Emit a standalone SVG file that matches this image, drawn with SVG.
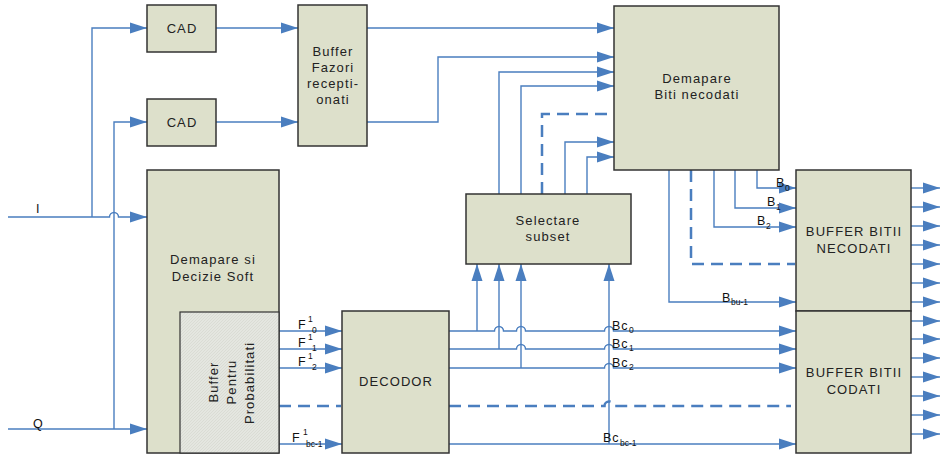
<svg xmlns="http://www.w3.org/2000/svg" width="942" height="455" viewBox="0 0 942 455">
<style>
.box{fill:#dde0cb;stroke:#333;stroke-width:1.5}
.inner{fill:url(#tex);stroke:#333;stroke-width:1.2}
.t{font-family:"Liberation Sans",Arial,sans-serif;font-size:13px;fill:#222;letter-spacing:1.1px;text-anchor:middle}
.l{font-family:"Liberation Sans",Arial,sans-serif;font-size:12.5px;fill:#111}
.s{font-family:"Liberation Sans",Arial,sans-serif;font-size:8.5px;fill:#111}
.c{fill:none;stroke:#4a7ebf;stroke-width:1.4}
.d{fill:none;stroke:#4a7ebf;stroke-width:2.5;stroke-dasharray:12 7}
.a{marker-end:url(#ar)}
</style>
<defs>
<marker id="ar" markerUnits="userSpaceOnUse" markerWidth="18" markerHeight="12" refX="17" refY="6" orient="auto">
<path d="M0,0.5 L17,6 L0,11.5 z" fill="#4a7ebf"/>
</marker>
<pattern id="tex" width="3" height="3" patternUnits="userSpaceOnUse">
<rect width="3" height="3" fill="#e4e6e0"/>
<path d="M0,3 L3,0" stroke="#d3d5cd" stroke-width="0.6"/>
</pattern>
</defs>
<rect width="942" height="455" fill="#fff"/>

<g id="connectors">
<!-- I and Q -->
<path class="c a" d="M8,217 L109.5,217 A4.5,4.5 0 0 1 118.5,217 L147,217"/>
<path class="c a" d="M92,217 L92,28 L147,28"/>
<path class="c a" d="M8,429 L147,429"/>
<path class="c a" d="M114,429 L114,122 L147,122"/>
<!-- CAD to buffer -->
<path class="c a" d="M216,28 L298,28"/>
<path class="c a" d="M216,122 L298,122"/>
<!-- buffer to demapare -->
<path class="c a" d="M367,28 L614,28"/>
<path class="c a" d="M367,122 L438,122 L438,57 L614,57"/>
<!-- selectare to demapare -->
<path class="c a" d="M499,194 L499,72 L614,72"/>
<path class="c a" d="M521,194 L521,86 L614,86"/>
<path class="d" d="M542,194 L542,114 L613,114"/>
<path class="c a" d="M565,194 L565,142 L614,142"/>
<path class="c a" d="M587,194 L587,157 L614,157"/>
<!-- demapare biti to buffer necodati -->
<path class="c a" d="M757,170 L757,188 L796,188"/>
<path class="c a" d="M735,170 L735,208 L796,208"/>
<path class="c a" d="M714,170 L714,227 L796,227"/>
<path class="d" d="M691,170 L691,264 L795,264"/>
<path class="c a" d="M669,170 L669,302 L796,302"/>
<!-- F outputs -->
<path class="c a" d="M279,331 L342,331"/>
<path class="c a" d="M279,349 L342,349"/>
<path class="c a" d="M279,368 L342,368"/>
<path class="d" d="M279,406 L341,406"/>
<path class="c a" d="M279,444 L342,444"/>
<!-- decodor outputs -->
<path class="c a" d="M449,331 L494.5,331 A4.5,4.5 0 0 1 503.5,331 L516.5,331 A4.5,4.5 0 0 1 525.5,331 L604.5,331 A4.5,4.5 0 0 1 613.5,331 L796,331"/>
<path class="c a" d="M449,349 L516.5,349 A4.5,4.5 0 0 1 525.5,349 L604.5,349 A4.5,4.5 0 0 1 613.5,349 L796,349"/>
<path class="c a" d="M449,368 L604.5,368 A4.5,4.5 0 0 1 613.5,368 L796,368"/>
<path class="d" d="M449,406 L604.5,406 A4.5,4.5 0 0 1 613.5,406 L791,406"/>
<path class="c a" d="M449,444 L796,444"/>
<!-- up to selectare -->
<path class="c a" d="M477,331 L477,264"/>
<path class="c a" d="M499,349 L499,264"/>
<path class="c a" d="M521,368 L521,264"/>
<path class="c a" d="M609,444 L609,264"/>
<!-- right outputs -->
<path class="c a" d="M911,188 L940,188"/>
<path class="c a" d="M911,207 L940,207"/>
<path class="c a" d="M911,226 L940,226"/>
<path class="c a" d="M911,245 L940,245"/>
<path class="c a" d="M911,264 L940,264"/>
<path class="c a" d="M911,283 L940,283"/>
<path class="c a" d="M911,302 L940,302"/>
<path class="c a" d="M911,321 L940,321"/>
<path class="c a" d="M911,339 L940,339"/>
<path class="c a" d="M911,358 L940,358"/>
<path class="c a" d="M911,377 L940,377"/>
<path class="c a" d="M911,396 L940,396"/>
<path class="c a" d="M911,415 L940,415"/>
<path class="c a" d="M911,434 L940,434"/>
</g>

<g id="labels">
<text class="l" x="36" y="213">I</text>
<text class="l" x="33" y="428">Q</text>
<text class="l" x="298" y="329">F</text><text class="s" x="308" y="322">1</text><text class="s" x="312" y="333">0</text>
<text class="l" x="298" y="347">F</text><text class="s" x="308" y="340">1</text><text class="s" x="312" y="351">1</text>
<text class="l" x="298" y="366">F</text><text class="s" x="308" y="359">1</text><text class="s" x="312" y="370">2</text>
<text class="l" x="292" y="442">F</text><text class="s" x="303" y="435">1</text><text class="s" x="306" y="447">bc-1</text>
<text class="l" x="612" y="330" letter-spacing="1">Bc</text><text class="s" x="629" y="333">0</text>
<text class="l" x="612" y="348" letter-spacing="1">Bc</text><text class="s" x="629" y="351">1</text>
<text class="l" x="612" y="367" letter-spacing="1">Bc</text><text class="s" x="629" y="370">2</text>
<text class="l" x="603" y="442" letter-spacing="1">Bc</text><text class="s" x="620" y="446">bc-1</text>
<text class="l" x="776" y="187">B</text><text class="s" x="785" y="191">0</text>
<text class="l" x="767" y="206">B</text><text class="s" x="776" y="210">1</text>
<text class="l" x="757" y="225">B</text><text class="s" x="766" y="229">2</text>
<text class="l" x="722" y="302">B</text><text class="s" x="731" y="305">bu-1</text>
</g>

<g id="cad1"><rect class="box" x="147" y="5" width="69" height="47"/><text class="t" x="182" y="33">CAD</text></g>
<g id="cad2"><rect class="box" x="147" y="99" width="69" height="47"/><text class="t" x="182" y="127">CAD</text></g>
<g id="buffer-fazori"><rect class="box" x="298" y="5" width="69" height="141"/>
<text class="t" x="333" y="56">Buffer</text><text class="t" x="333" y="72">Fazori</text><text class="t" x="333" y="88">recepti-</text><text class="t" x="333" y="104">onati</text></g>
<g id="demapare-biti"><rect class="box" x="614" y="6" width="165" height="164"/>
<text class="t" x="697" y="83">Demapare</text><text class="t" x="697" y="99">Biti necodati</text></g>
<g id="demapare-soft"><rect class="box" x="147" y="170" width="132" height="283"/>
<text class="t" x="213" y="264">Demapare si</text><text class="t" x="213" y="281">Decizie Soft</text></g>
<g id="buffer-prob"><rect class="inner" x="180" y="312" width="99" height="141"/>
<text class="t" font-size="12.5" letter-spacing="0.3" transform="translate(218,382) rotate(-90)">Buffer</text>
<text class="t" font-size="12.5" letter-spacing="0.3" transform="translate(236,382) rotate(-90)">Pentru</text>
<text class="t" font-size="12.5" letter-spacing="0.3" transform="translate(254,383) rotate(-90)">Probabilitati</text></g>
<g id="selectare"><rect class="box" x="466" y="194" width="165" height="70"/>
<text class="t" x="548" y="225">Selectare</text><text class="t" x="548" y="241">subset</text></g>
<g id="decodor"><rect class="box" x="342" y="311" width="107" height="142"/>
<text class="t" x="396" y="386">DECODOR</text></g>
<g id="buffer-necodati"><rect class="box" x="796" y="170" width="115" height="141"/>
<text class="t" x="854" y="236">BUFFER BITII</text><text class="t" x="854" y="253">NECODATI</text></g>
<g id="buffer-codati"><rect class="box" x="796" y="311" width="115" height="142"/>
<text class="t" x="854" y="377">BUFFER BITII</text><text class="t" x="854" y="394">CODATI</text></g>
</svg>
